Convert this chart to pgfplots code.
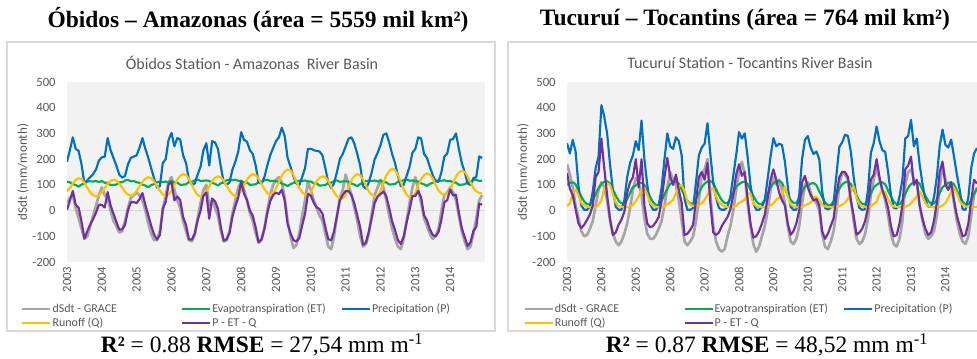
\documentclass[border=0pt]{standalone}
\usepackage{fontspec}
\setmainfont{Liberation Serif}
\newfontfamily\calibri{Carlito}
\usepackage{pgfplots}
\usepackage{pgfplotstable}
\pgfplotsset{compat=1.18}
\definecolor{cG}{HTML}{A5A5A5}
\definecolor{cET}{HTML}{00B050}
\definecolor{cP}{HTML}{0070C0}
\definecolor{cQ}{HTML}{FFC000}
\definecolor{cD}{HTML}{7030A0}
\definecolor{txt}{HTML}{595959}
\definecolor{bgc}{HTML}{F2F2F2}
\definecolor{frm}{HTML}{D9D9D9}

% Amazonas (Obidos): i GRACE ET P Q P-ET-Q
\pgfplotstableread{
i G ET P Q D
0 30 112 190 75 3
1 50 110 235 88 39
2 60 103 285 105 76
3 10 99 240 120 23
4 -30 93 232 126 11
5 -70 101 180 122 -42
6 -110 105 105 108 -109
7 -100 113 118 88 -80
8 -60 114 130 70 -54
9 -20 113 142 60 -33
10 20 115 160 55 -8
11 60 111 195 60 23
12 90 115 207 71 22
13 60 108 210 88 12
14 50 108 282 104 72
15 0 99 235 115 21
16 -40 100 205 120 -12
17 -60 101 175 117 -44
18 -85 110 140 106 -74
19 -80 110 128 89 -73
20 -40 117 135 74 -55
21 10 119 180 62 1
22 50 114 205 58 32
23 60 115 210 63 33
24 70 110 215 76 29
25 60 108 245 94 45
26 40 101 282 112 68
27 0 97 240 124 21
28 -50 91 205 130 -18
29 -90 99 165 126 -59
30 -115 103 125 114 -93
31 -115 111 90 95 -113
32 -80 112 95 78 -95
33 0 111 185 63 9
34 60 113 200 55 34
35 110 109 275 62 103
36 130 116 302 77 110
37 80 109 250 99 40
38 40 109 282 120 55
39 10 100 276 135 41
40 -40 101 215 142 -25
41 -80 102 185 138 -56
42 -115 111 120 123 -112
43 -120 111 100 100 -113
44 -95 118 105 77 -89
45 -30 120 140 60 -38
46 30 115 170 55 -1
47 80 116 235 62 58
48 100 117 262 75 70
49 20 115 175 94 -32
50 40 108 270 114 47
51 10 104 265 127 36
52 -20 98 240 133 7
53 -80 106 170 129 -64
54 -120 110 110 116 -117
55 -115 118 100 96 -111
56 -80 119 110 77 -86
57 -10 118 160 63 -23
58 40 120 190 55 17
59 90 116 230 62 51
60 110 116 305 77 113
61 80 109 275 99 65
62 40 109 268 120 41
63 -10 100 235 135 0
64 -40 101 220 142 -20
65 -90 102 175 138 -66
66 -125 111 110 124 -123
67 -115 111 105 104 -112
68 -70 118 130 84 -71
69 0 120 175 68 -11
70 60 115 215 62 37
71 100 116 243 68 60
72 120 114 270 86 70
73 130 112 285 111 64
74 110 105 322 135 81
75 50 101 290 152 39
76 -40 95 205 160 -52
77 -100 103 170 156 -88
78 -146 107 133 140 -115
79 -135 115 105 113 -120
80 -90 116 98 89 -107
81 -20 115 130 72 -59
82 40 117 165 62 -12
83 110 113 240 62 64
84 80 113 240 70 58
85 40 106 235 96 31
86 10 106 232 115 13
87 -20 97 230 127 6
88 -40 98 215 133 -13
89 -90 99 165 130 -65
90 -140 108 110 115 -111
91 -150 108 88 94 -116
92 -100 115 105 71 -80
93 -20 117 150 56 -21
94 50 112 200 48 39
95 80 113 220 47 61
96 140 114 250 60 76
97 100 112 280 95 75
98 60 105 285 118 61
99 10 101 260 134 27
100 -40 95 220 142 -19
101 -100 103 175 138 -65
102 -140 107 95 120 -133
103 -130 115 85 97 -124
104 -90 116 110 74 -80
105 -10 115 150 61 -28
106 60 117 200 55 30
107 90 113 224 56 54
108 120 117 255 75 64
109 90 110 295 109 74
110 40 110 300 136 56
111 -20 101 265 154 10
112 -70 102 220 163 -42
113 -110 103 185 157 -76
114 -140 112 135 140 -115
115 -150 112 95 111 -130
116 -110 119 100 82 -100
117 -40 121 135 62 -46
118 30 116 170 51 2
119 90 117 225 52 57
120 130 115 240 68 57
121 80 113 285 98 76
122 30 106 280 122 51
123 -30 102 220 138 -18
124 -60 96 205 145 -38
125 -90 104 170 140 -73
126 -110 108 138 124 -95
127 -100 116 113 100 -100
128 -70 117 112 78 -83
129 0 116 150 66 -34
130 60 118 210 62 32
131 70 114 222 66 41
132 90 116 275 78 82
133 70 109 278 108 59
134 40 109 300 132 61
135 -20 100 240 148 -8
136 -80 101 185 155 -68
137 -120 102 150 150 -103
138 -150 111 105 134 -138
139 -140 111 100 110 -123
140 -90 118 126 88 -79
141 -30 120 130 75 -63
142 40 115 211 68 27
143 60 116 204 66 23
}\amaz

% Tocantins (Tucurui): i GRACE ET P Q P-ET-Q
\pgfplotstableread{
i G ET P Q D
0 180 100 262 16 146
1 140 108 222 29 85
2 90 110 275 65 60
3 20 102 230 82 5
4 -30 78 95 60 -50
5 -80 55 20 30 -68
6 -100 35 3 18 -55
7 -95 24 3 15 -36
8 -70 24 15 13 -15
9 -40 40 75 12 20
10 20 65 165 13 130
11 80 88 210 22 150
12 110 104 410 40 280
13 90 112 365 88 165
14 40 114 300 107 60
15 -40 106 180 100 -30
16 -90 82 80 65 -95
17 -120 59 15 30 -85
18 -135 39 3 18 -55
19 -120 28 3 15 -35
20 -90 28 40 13 -5
21 -50 44 130 13 70
22 10 69 185 15 110
23 80 92 215 22 130
24 126 98 270 36 200
25 110 106 235 55 90
26 60 108 350 81 200
27 -30 100 200 88 20
28 -90 76 100 62 -50
29 -110 53 25 30 -65
30 -110 33 3 18 -60
31 -95 22 3 15 -45
32 -70 22 20 13 -25
33 -40 38 90 13 40
34 20 63 200 16 130
35 90 86 300 25 205
36 150 103 250 32 130
37 120 111 240 42 100
38 100 113 285 68 140
39 40 105 270 94 80
40 -40 81 215 100 30
41 -120 58 45 75 -95
42 -135 38 3 35 -90
43 -120 27 3 23 -75
44 -100 27 10 18 -55
45 -40 43 110 16 40
46 40 68 215 20 130
47 140 91 245 29 150
48 160 105 260 42 120
49 200 113 340 62 185
50 60 115 220 81 30
51 -60 107 110 88 -85
52 -120 83 50 55 -95
53 -150 60 10 32 -85
54 -160 40 3 22 -60
55 -150 29 3 16 -42
56 -100 29 15 14 -25
57 -60 45 55 13 5
58 0 70 135 14 60
59 80 93 215 18 140
60 150 102 305 29 180
61 190 110 280 35 135
62 140 112 300 42 150
63 30 104 210 68 45
64 -60 80 100 65 -50
65 -130 57 30 28 -105
66 -160 37 3 18 -100
67 -140 26 3 14 -80
68 -100 26 15 13 -50
69 -60 42 40 13 -15
70 0 67 125 14 50
71 80 90 210 20 120
72 130 106 282 28 160
73 100 114 250 42 120
74 120 116 260 50 70
75 80 108 255 60 40
76 30 84 190 94 20
77 -60 61 95 55 -50
78 -120 41 15 25 -94
79 -130 30 3 16 -80
80 -110 30 3 14 -50
81 -60 46 60 13 0
82 30 71 200 14 110
83 100 94 275 20 135
84 110 97 290 25 90
85 70 105 245 30 60
86 40 107 220 50 40
87 30 99 230 55 45
88 0 75 200 40 20
89 -90 52 75 22 -80
90 -140 32 10 16 -110
91 -150 21 5 14 -90
92 -120 21 10 13 -60
93 -80 37 30 13 -30
94 0 62 140 14 60
95 100 85 248 18 130
96 150 102 265 22 150
97 140 110 295 30 150
98 120 112 290 45 130
99 40 104 230 75 40
100 -40 80 130 95 -20
101 -110 57 55 50 -94
102 -130 37 10 25 -85
103 -120 26 3 16 -70
104 -90 26 5 14 -40
105 -30 42 80 14 10
106 60 67 225 16 120
107 120 90 262 26 140
108 170 100 327 35 200
109 120 108 270 62 130
110 80 110 235 81 80
111 40 102 228 70 50
112 -20 78 150 45 10
113 -90 55 60 23 -60
114 -130 35 10 16 -100
115 -140 24 8 14 -95
116 -110 24 55 13 -50
117 -40 40 120 13 20
118 100 65 280 14 160
119 150 88 290 20 175
120 160 103 353 28 210
121 120 111 250 42 100
122 110 113 280 55 120
123 20 105 180 75 20
124 -40 81 105 55 -30
125 -90 58 42 29 -70
126 -110 38 16 18 -95
127 -100 27 15 14 -85
128 -80 27 50 13 -40
129 -20 43 130 13 30
130 90 68 250 14 150
131 180 91 315 20 190
132 120 100 256 29 100
133 90 108 245 49 80
134 100 110 276 75 110
135 30 102 210 88 40
136 -40 78 140 68 -20
137 -90 55 80 36 -60
138 -120 35 5 23 -100
139 -130 24 3 16 -95
140 -100 24 50 14 -50
141 -20 40 165 14 40
142 60 65 222 14 120
143 90 88 243 15 105
}\toca

\pgfplotsset{
  panel/.style={
    scale only axis, height=135pt,
    xmin=0, xmax=144, ymin=-200, ymax=500,
    axis background/.style={fill=bgc},
    axis line style={draw=none},
    ytick={-200,-100,0,100,200,300,400,500},
    yticklabels={-200,-100,0,100,200,300,400,500},
    xtick={0,12,24,36,48,60,72,84,96,108,120,132},
    xticklabels={2003,2004,2005,2006,2007,2008,2009,2010,2011,2012,2013,2014},
    major tick length=0pt,
    tick label style={font=\calibri\fontsize{9.5}{11}\selectfont, text=txt},
    yticklabel style={xshift=-5pt},
    xticklabel style={rotate=90, anchor=east},
    extra y ticks={0}, extra y tick labels={},
    extra y tick style={grid=major, major grid style={draw=frm, line width=0.8pt}},
    every axis plot/.append style={line width=1.6pt, line join=round},
    legend columns=3,
    legend cell align=left,
    legend image code/.code={\draw[##1] (0pt,0pt) -- (21pt,0pt);},
    legend style={anchor=north west, draw=none, fill=none,
      text=txt,
      /tikz/every even column/.append style={column sep=0pt},
      nodes={inner xsep=0.6pt, inner ysep=1.3pt, font=\calibri\fontsize{9}{10}\selectfont}},
  }
}

\begin{document}
\begin{tikzpicture}
\useasboundingbox (0,0) rectangle (732.75pt,-268.5pt);
\fill[white] (0,0) rectangle (732.75pt,-268.5pt);
% frames
\draw[frm, line width=0.8pt] (5.25pt,-31.5pt) rectangle (371.25pt,-248.25pt);
\draw[frm, line width=0.8pt] (381pt,-31.5pt) rectangle (745pt,-248.25pt);
% outer titles
\node[font=\bfseries\fontsize{17.6}{20}\selectfont] at (193.5pt,-15pt) {Óbidos – Amazonas (área = 5559 mil km²)};
\node[font=\bfseries\fontsize{17.6}{20}\selectfont] at (558.75pt,-15pt) {Tucuruí – Tocantins (área = 764 mil km²)};
% inner titles
\node[font=\calibri\fontsize{12}{14}\selectfont, text=txt] at (189pt,-47pt) {Óbidos Station - Amazonas \ River Basin};
\node[font=\calibri\fontsize{12}{14}\selectfont, text=txt] at (562.5pt,-47pt) {Tucuruí Station - Tocantins River Basin};
% y labels
\node[font=\calibri\fontsize{9.8}{11}\selectfont, text=txt, rotate=90] at (17.25pt,-129pt) {dSdt (mm/month)};
\node[font=\calibri\fontsize{9.8}{11}\selectfont, text=txt, rotate=90] at (392.25pt,-129pt) {dSdt (mm/month)};
% bottom
\node[font=\fontsize{17.6}{20}\selectfont] at (196.5pt,-258.75pt) {\textbf{R²} = 0.88 \textbf{RMSE} = 27,54 mm m\textsuperscript{-1}};
\node[font=\fontsize{17.6}{20}\selectfont] at (575.25pt,-258.75pt) {\textbf{R²} = 0.87 \textbf{RMSE} = 48,52 mm m\textsuperscript{-1}};

\begin{axis}[panel, width=313.5pt, at={(50.25pt,-61.5pt)}, anchor=north west,
  legend style={at={(-0.12,-0.205)}}]
\addplot[cG, line width=2pt] table[x=i,y=G]{\amaz};
\addlegendentry{\makebox[96pt][l]{dSdt - GRACE}}
\addplot[cET] table[x=i,y=ET]{\amaz};
\addlegendentry{\makebox[96pt][l]{Evapotranspiration (ET)}}
\addplot[cP] table[x=i,y=P]{\amaz};
\addlegendentry{Precipitation (P)}
\addplot[cQ] table[x=i,y=Q]{\amaz};
\addlegendentry{\makebox[96pt][l]{Runoff (Q)}}
\addplot[cD] table[x=i,y=D]{\amaz};
\addlegendentry{\makebox[96pt][l]{P - ET - Q}}
\end{axis}

\begin{axis}[panel, width=309.6pt, at={(425.25pt,-61.5pt)}, anchor=north west,
  legend style={at={(-0.116,-0.205)}}]
\addplot[cG, line width=2pt] table[x=i,y=G]{\toca};
\addlegendentry{\makebox[96pt][l]{dSdt - GRACE}}
\addplot[cET] table[x=i,y=ET]{\toca};
\addlegendentry{\makebox[96pt][l]{Evapotranspiration (ET)}}
\addplot[cP] table[x=i,y=P]{\toca};
\addlegendentry{Precipitation (P)}
\addplot[cQ] table[x=i,y=Q]{\toca};
\addlegendentry{\makebox[96pt][l]{Runoff (Q)}}
\addplot[cD] table[x=i,y=D]{\toca};
\addlegendentry{\makebox[96pt][l]{P - ET - Q}}
\end{axis}
\end{tikzpicture}
\end{document}
